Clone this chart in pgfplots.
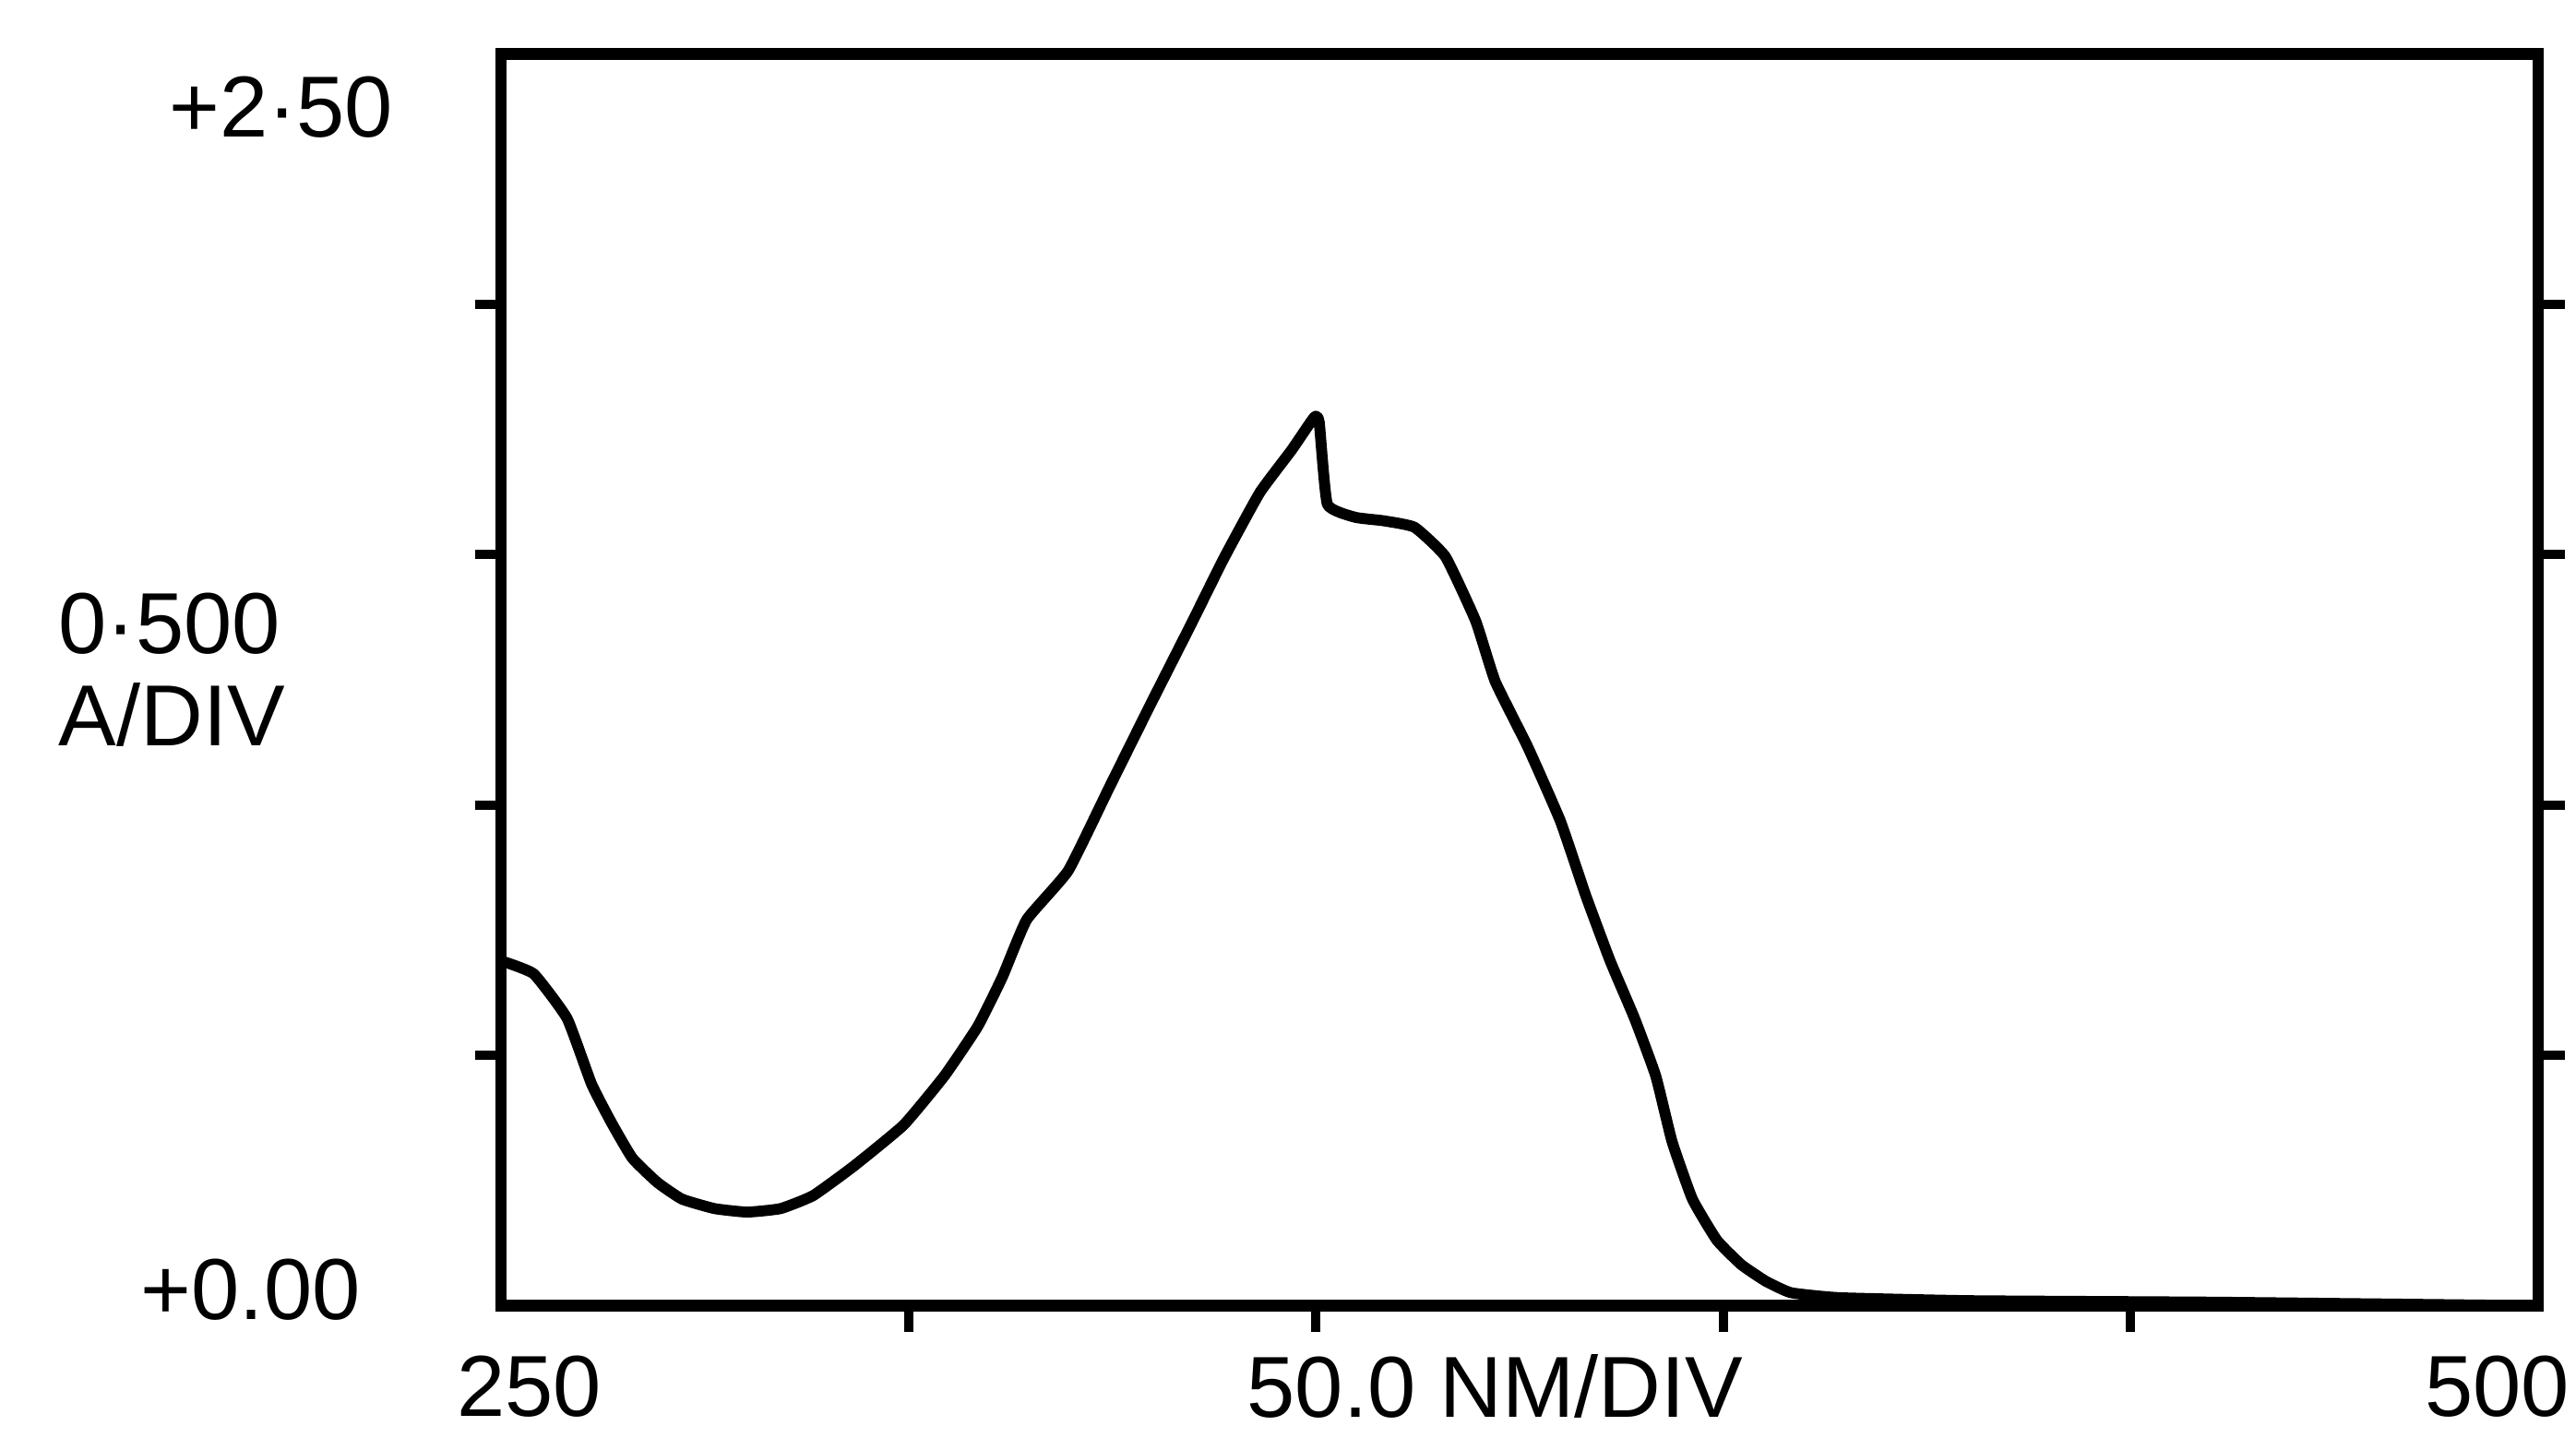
\documentclass[border=0pt]{standalone}
\usepackage{fontspec}
\setmainfont{Liberation Sans}
\usepackage{pgfplots}
\pgfplotsset{compat=1.18}

\begin{document}
\begin{tikzpicture}
\begin{axis}[
  scale only axis, width=124mm, height=76.2mm,
  at={(0,0)}, anchor=south west,
  xmin=250, xmax=500, ymin=0, ymax=2.5,
  xtick={300,350,400,450}, ytick={0.5,1,1.5,2},
  xticklabels={}, yticklabels={},
  xtick pos=bottom, ytick pos=both,
  tick align=outside, major tick length=1.6mm,
  every tick/.style={line width=1.6pt, black},
  axis line style={line width=2pt},
  clip=false]
  \addplot[black, line width=1.9pt, line join=round, smooth, tension=0.25] coordinates {
    (250,0.689) (254.0,0.663) (258.1,0.574) (261.1,0.443) (263.5,0.367)
    (266.1,0.295) (269.2,0.246) (272.2,0.213) (276.2,0.194) (280.2,0.187)
    (284.3,0.194) (288.3,0.220) (293.3,0.279) (299.4,0.361) (304.4,0.459)
    (308.5,0.558) (311.5,0.656) (314.5,0.771) (319.6,0.869) (324.6,1.034)
    (329.6,1.198) (334.7,1.362) (338.7,1.493) (343.1,1.624) (347.0,1.709)
    (349.8,1.775) (350.4,1.765) (351.4,1.601) (354.8,1.575) (358.3,1.568)
    (362.1,1.555) (365.9,1.496) (369.6,1.368) (372.0,1.247) (376.0,1.116)
    (380.0,0.968) (383.1,0.820) (386.1,0.689) (389.1,0.574) (391.7,0.459)
    (393.7,0.328) (396.2,0.213) (399.2,0.131) (402.2,0.082) (405.2,0.049)
    (408.3,0.026) (414.3,0.016) (430.4,0.010) (460.7,0.007) (500,0.0)};
\end{axis}
\begin{scope}[every node/.style={font=\fontsize{15}{18}\selectfont, inner sep=0pt}]
  \node[anchor=east] at (-6.5mm,73mm) {+2·50};
  \node[anchor=west] at (-27mm,41.5mm) {0·500};
  \node[anchor=west] at (-27mm,36mm) {A/DIV};
  \node[anchor=east] at (-8.5mm,1mm) {+0.00};
  \node at (1.7mm,-4.9mm) {250};
  \node at (60.5mm,-4.9mm) {50.0 NM/DIV};
  \node at (121.5mm,-4.9mm) {500};
\end{scope}
\path[use as bounding box] (-30.5mm,-8mm) rectangle (126.3mm,79.5mm);
\end{tikzpicture}
\end{document}
